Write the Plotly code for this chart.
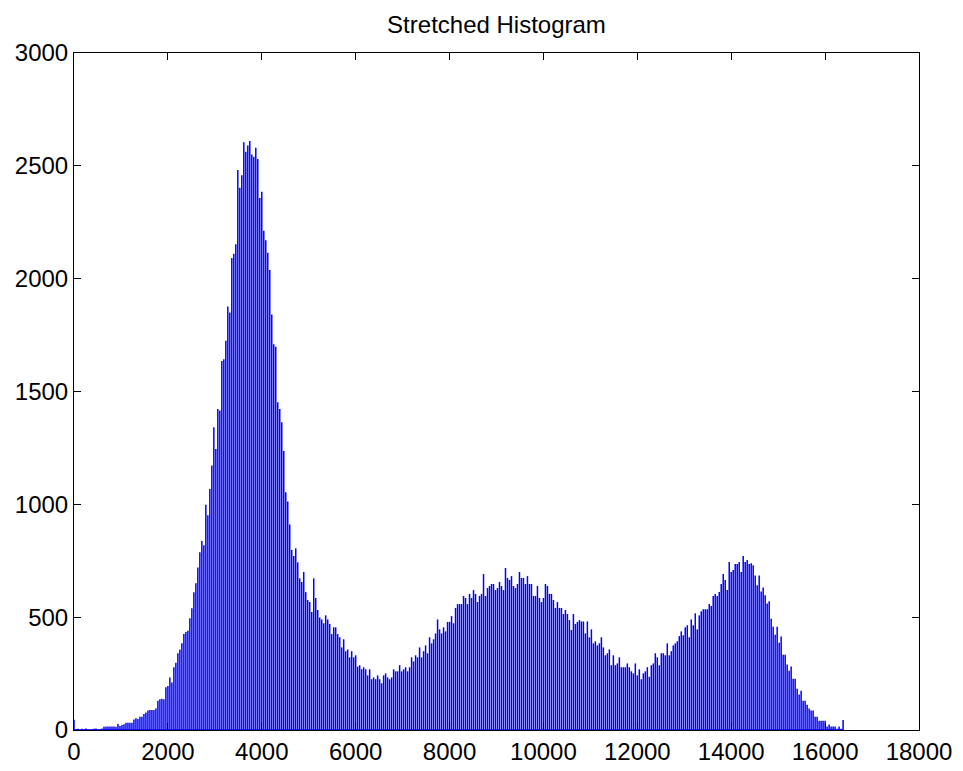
import numpy as np
import plotly.graph_objects as go

# Histogram of stretched intensities (bins spanning 0..16383)
bin_first = 0
bin_last = 16383

counts = [
    # bins 0-62
    45, 4, 6, 0, 5, 3, 7, 2, 0, 3, 6, 7, 2, 3, 7, 14,
    15, 16, 15, 16, 15, 14,
    27, 18, 22, 25, 32, 32, 32, 32,
    47, 52, 49, 59, 59, 71, 77, 86, 89, 89, 89, 95,
    130, 136, 139, 136, 189, 195, 233, 210, 278, 298, 340, 357, 384, 425, 434, 440, 495,
    540, 610, 650, 720,
    # bins 63-107
    788, 837, 819, 998, 952, 1068, 1172, 1342, 1245, 1423,
    1416, 1635, 1643, 1725, 1877, 1850, 2092, 2110, 2152, 2482,
    2403, 2458, 2604, 2562, 2590, 2610, 2550, 2540, 2580, 2530,
    2357, 2385, 2212, 2170, 2115, 2038, 1841, 1709, 1698, 1452,
    1423, 1364, 1236, 1053, 1013,
    # bins 108-178
    911, 798, 771, 805, 743, 672, 656, 700, 611, 576,
    567, 523, 672, 585, 532, 499, 490, 473, 508, 490,
    470, 425, 455, 455, 425, 411, 366, 402, 349, 357,
    322, 349, 322, 331, 281, 287, 269, 278, 269, 242,
    269, 225, 233, 225, 242, 225, 207, 242, 251, 233,
    225, 233, 269, 260, 260, 287, 260, 269, 278, 260,
    278, 322, 304, 331, 322, 366, 322, 349, 375, 340,
    411,
    # bins 179-258
    384, 402, 428, 490, 446, 428, 455, 437, 479, 479,
    505, 473, 541, 558, 558, 558, 594, 585, 558, 603,
    585, 620, 603, 567, 594, 603, 691, 594, 629, 638,
    647, 647, 620, 629, 656, 638, 620, 718, 674, 665,
    682, 638, 629, 647, 700, 674, 674, 647, 682, 647,
    647, 594, 594, 638, 585, 567, 585, 647, 638, 603,
    603, 576, 541, 567, 541, 541, 514, 532, 514, 487,
    443, 514, 470, 479, 487, 481, 481, 428, 481, 411,
    # bins 259-338
    446, 384, 393, 375, 384, 411, 366, 331, 340, 357,
    287, 331, 287, 295, 322, 278, 278, 278, 295, 278,
    260, 251, 295, 242, 269, 225, 251, 260, 278, 236,
    287, 295, 340, 322, 287, 340, 340, 331, 384, 331,
    349, 375, 384, 393, 416, 437, 420, 455, 464, 411,
    490, 464, 517, 446, 508, 526, 535, 535, 535, 558,
    549, 594, 603, 594, 611, 647, 691, 665, 620, 744,
    700, 709, 736, 736, 744, 700, 771, 744, 753, 736,
    # bins 339-385
    739, 730, 685, 641, 685, 614, 632, 597, 561, 570,
    493, 458, 422, 458, 387, 414, 334, 334, 290, 263,
    281, 227, 227, 183, 157, 174, 130, 130, 112, 95,
    86, 86, 59, 59, 41, 41, 41, 41, 15, 24,
    15, 15, 15, 6, 15, 6, 44,
]

x_ticks = [0, 2000, 4000, 6000, 8000, 10000, 12000, 14000, 16000, 18000]
y_ticks = [0, 500, 1000, 1500, 2000, 2500, 3000]
title_text = "Stretched Histogram"

centers = np.linspace(bin_first, bin_last, len(counts))

# each bin drawn as a thin vertical stem from 0 to its count
stem_x, stem_y = [], []
for c, v in zip(centers, counts):
    stem_x += [c, c, None]
    stem_y += [0, v, None]

fig = go.Figure()
fig.add_trace(go.Scatter(
    x=stem_x, y=stem_y, mode="lines",
    line=dict(color="#0000FF", width=1.5),
    showlegend=False, hoverinfo="skip",
))
# baseline of the bars
fig.add_trace(go.Scatter(
    x=[bin_first, bin_last], y=[0, 0], mode="lines",
    line=dict(color="#0000FF", width=1.5),
    showlegend=False, hoverinfo="skip",
))

font_family = "Liberation Sans, Arial, sans-serif"
axis_common = dict(
    showline=True, linecolor="black", linewidth=1, mirror="allticks",
    ticks="inside", ticklen=7, tickwidth=1, tickcolor="black",
    showgrid=False, zeroline=False, automargin=False,
    tickfont=dict(family=font_family, size=24, color="black"),
)

fig.update_layout(
    width=963, height=771,
    margin=dict(l=74, r=44, t=53, b=41, pad=0),
    paper_bgcolor="white", plot_bgcolor="white",
    title=dict(text=title_text, x=0.5, xref="paper", y=1 - 25 / 771,
               yanchor="middle", xanchor="center",
               font=dict(family=font_family, size=24, color="black")),
    xaxis=dict(range=[0, 18000], tickvals=x_ticks, ticktext=[str(v) for v in x_ticks], **axis_common),
    yaxis=dict(range=[0, 3000], tickvals=y_ticks, ticktext=[str(v) for v in y_ticks], **axis_common),
)

fig.write_html("out.html")
